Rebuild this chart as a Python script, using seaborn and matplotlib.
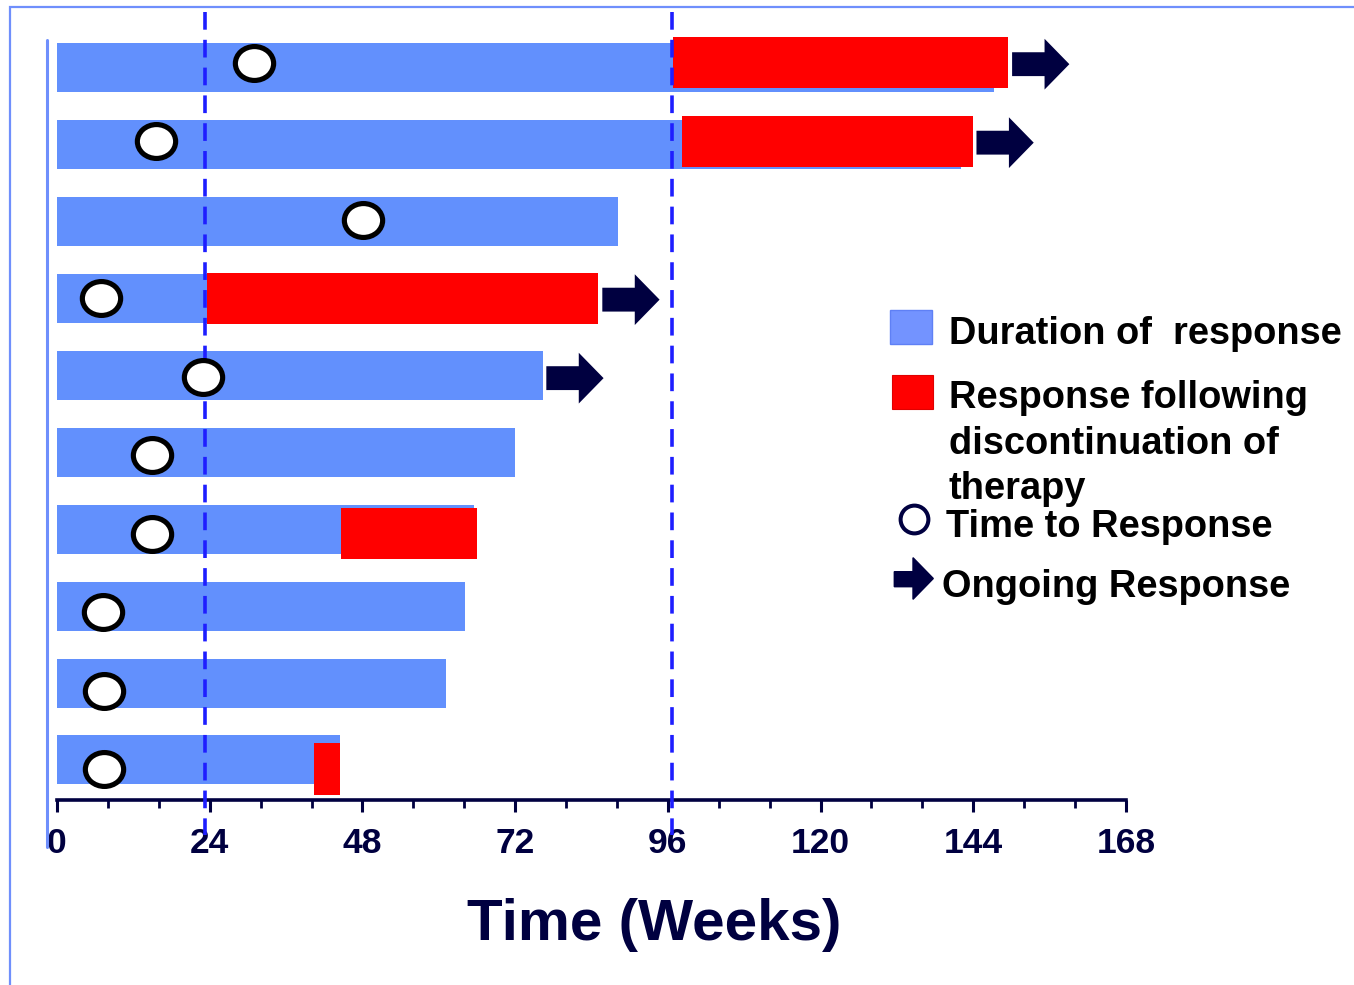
import numpy as np
import pandas as pd
import matplotlib
matplotlib.use("Agg")
import matplotlib.pyplot as plt
from matplotlib.patches import FancyArrow, Rectangle, Polygon
from matplotlib.lines import Line2D
from matplotlib.path import Path
from matplotlib.ticker import MultipleLocator
import seaborn as sns

# ---- data -------------------------------------------------------------
patients = ["P1", "P2", "P3", "P4", "P5", "P6", "P7", "P8", "P9", "P10"]
response_end = [147.3, 142.0, 88.2, 84.5, 76.3, 72.0, 65.5, 64.1, 61.1, 44.5]
off_therapy_start = [96.8, 98.2, np.nan, 23.6, np.nan, np.nan, 44.6, np.nan, np.nan, 40.4]
off_therapy_end = [149.5, 143.9, np.nan, 85.1, np.nan, np.nan, 66.0, np.nan, np.nan, 44.5]
time_to_response = [31.0, 15.5, 48.1, 6.9, 23.0, 15.0, 15.0, 7.2, 7.4, 7.4]
ongoing = [True, True, False, True, True, False, False, False, False, False]
reference_weeks = [23.3, 96.6]
x_ticks = [0, 24, 48, 72, 96, 120, 144, 168]
x_label = "Time (Weeks)"
legend_duration = "Duration of  response"
legend_off_therapy = ["Response following", "discontinuation of", "therapy"]
legend_time = "Time to Response"
legend_ongoing = "Ongoing Response"

# ---- style ------------------------------------------------------------
BLUE = "#6290fd"
RED = "#ff0000"
NAVY = "#000040"
DASH = "#1e1eff"
FRAME = "#6f8ffc"

sns.set_style("white")
plt.rcParams["font.family"] = ["Liberation Sans", "DejaVu Sans"]

W, H = 1354, 985
fig = plt.figure(figsize=(W / 100, H / 100), dpi=100)
ax = fig.add_axes([57 / W, (H - 800) / H, 1069 / W, 790 / H])


def fig_xy(x, y):
    return (x / W, 1 - y / H)


df = pd.DataFrame({"patient": patients, "end": response_end})
sns.barplot(data=df, x="end", y="patient", orient="h", color=BLUE,
            saturation=1, width=0.637, edgecolor="none", linewidth=0,
            ax=ax, zorder=2)

rows = np.arange(len(patients))
# slight vertical drift of the overlay marks relative to the bars
drift = -0.062 + 0.02 * rows

# red segments: response after therapy was stopped
start = np.array(off_therapy_start)
end = np.array(off_therapy_end)
has_red = ~np.isnan(start)
ax.barh(rows[has_red] + drift[has_red], end[has_red] - start[has_red],
        left=start[has_red], height=0.665, color=RED, zorder=3, linewidth=0)

# reference lines
ax.vlines(reference_weeks, ymin=-0.72, ymax=9.975, colors=DASH,
          linestyles=(0, (4.9, 2.8)), linewidth=2.6, clip_on=False, zorder=4)

# time-to-response markers (slightly wide ellipses)
circ = Path.unit_circle()
ellipse = Path(circ.vertices * np.array([1.13, 1.0]), circ.codes)
sns.scatterplot(x=time_to_response, y=rows + drift, marker=ellipse, s=760,
                color="white", edgecolor="black", linewidth=3.7,
                legend=False, ax=ax, zorder=5)

# ongoing-response arrows
bar_tip = np.where(has_red, end, np.array(response_end))
for i in rows[np.array(ongoing)]:
    ax.add_patch(FancyArrow(bar_tip[i] + 0.6, i + drift[i] + 0.02, 9.0, 0,
                            width=0.31, head_width=0.66, head_length=3.9,
                            length_includes_head=True, color=NAVY,
                            linewidth=0, zorder=4))

# axes
ax.set_xlim(0, 168)
ax.set_ylim(9.52, -0.746)
ax.set_yticks([])
ax.set_ylabel("")
for side in ("top", "right", "left"):
    ax.spines[side].set_visible(False)
ax.spines["bottom"].set_color(NAVY)
ax.spines["bottom"].set_linewidth(2.6)
ax.set_xticks(x_ticks, labels=[str(t) for t in x_ticks],
              fontweight="bold", fontsize=25.5, color=NAVY)
ax.xaxis.set_minor_locator(MultipleLocator(8))
ax.tick_params(axis="x", which="major", direction="out", length=8.6,
               width=2.2, color=NAVY, pad=11, bottom=True)
ax.tick_params(axis="x", which="minor", direction="out", length=5.8,
               width=2.0, color=NAVY, bottom=True)
ax.set_xlabel(x_label, fontsize=42, fontweight="bold", color=NAVY)
ax.xaxis.set_label_coords((654 - 57) / 1069, -(940 - 800) / 790)
ax.xaxis.label.set_verticalalignment("baseline")

# left rule and outer frame
x0, y0 = fig_xy(47, 40)
x1, y1 = fig_xy(47, 847)
fig.add_artist(Line2D([x0, x1], [y0, y1], color=FRAME, linewidth=2.2))
fx, fy = fig_xy(10, 7)
fig.add_artist(Rectangle((fx, -0.1), 1.2, fy + 0.1, fill=False,
                         edgecolor=FRAME, linewidth=1.6,
                         transform=fig.transFigure))

# legend
def fig_rect(xa, ya, xb, yb, **kw):
    (ax0, ay0), (ax1, ay1) = fig_xy(xa, yb), fig_xy(xb, ya)
    fig.add_artist(Rectangle((ax0, ay0), ax1 - ax0, ay1 - ay0,
                             transform=fig.transFigure, **kw))

fig_rect(890, 310, 931.7, 344.3, facecolor="#7393ff", edgecolor="#5f80f5",
         linewidth=1)
fig_rect(892, 375, 932.7, 409.3, facecolor=RED, edgecolor="#e00000",
         linewidth=0.8)
cx, cy = fig_xy(914, 519)
fig.add_artist(Line2D([cx], [cy], marker="o", markersize=20,
                      markerfacecolor="white", markeredgecolor=NAVY,
                      markeredgewidth=2.9, linestyle="none"))
arrow_px = [(894.3, 571.7), (913, 571.7), (913, 557.7), (933.3, 578.5),
            (913, 599.3), (913, 586.7), (894.3, 586.7)]
fig.add_artist(Polygon([fig_xy(*p) for p in arrow_px], closed=True,
                       facecolor=NAVY, edgecolor=NAVY,
                       transform=fig.transFigure))

text_kw = dict(fontsize=27.4, fontweight="bold", color="black",
               ha="left", va="baseline")
fig.text(*fig_xy(949, 344), legend_duration, **text_kw)
for k, line in enumerate(legend_off_therapy):
    fig.text(*fig_xy(949, 407.7 + 45.8 * k), line, **text_kw)
fig.text(*fig_xy(946, 536.7), legend_time, **text_kw)
fig.text(*fig_xy(942.5, 596.7), legend_ongoing, **text_kw)

fig.savefig("out.png", dpi=100)
